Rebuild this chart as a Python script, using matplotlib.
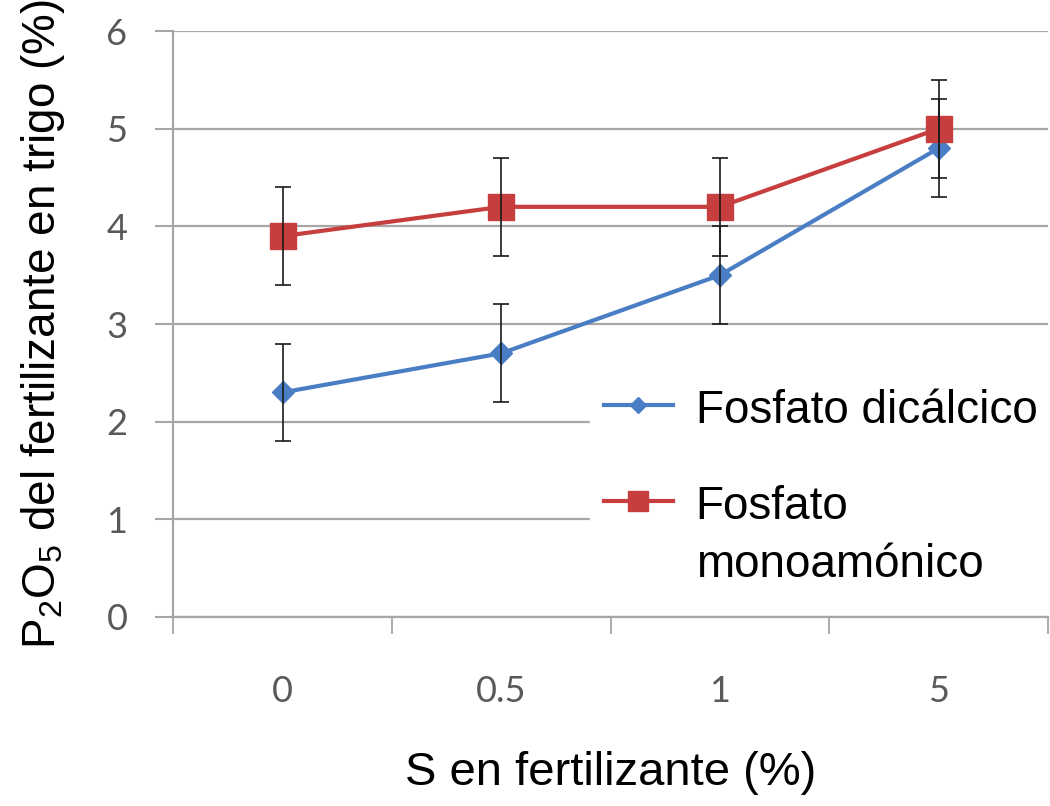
import numpy as np
import matplotlib
matplotlib.use('Agg')
import matplotlib.pyplot as plt

# S content in the fertilizer (categories) and P2O5 uptake in wheat
s_levels = ['0', '0.5', '1', '5']
dicalcico = [2.3, 2.7, 3.5, 4.8]
dicalcico_err = [0.5, 0.5, 0.5, 0.5]
monoamonico = [3.9, 4.2, 4.2, 5.0]
monoamonico_err = [0.5, 0.5, 0.5, 0.5]
series_names = ['Fosfato dicálcico', 'Fosfato\nmonoamónico']

plt.rcParams['font.family'] = ['Liberation Sans', 'DejaVu Sans']
plt.rcParams['mathtext.fontset'] = 'custom'
plt.rcParams['mathtext.rm'] = 'Liberation Sans'
plt.rcParams['mathtext.it'] = 'Liberation Sans:italic'

blue = '#4A7EC4'
red = '#C63E3E'
grid_col = '#A6A6A6'
tick_col = '#595959'

fig = plt.figure(figsize=(10.5, 8.06), dpi=100)
ax = fig.add_axes([0.165, 0.2345, 0.833, 0.727])

x = np.arange(len(s_levels))

ax.plot(x, dicalcico, color=blue, lw=3, marker='D', ms=11,
        label=series_names[0], zorder=3)
ax.plot(x, monoamonico, color=red, lw=3, marker='s', ms=19,
        label=series_names[1], zorder=3)
ax.errorbar(x, dicalcico, yerr=dicalcico_err, fmt='none', ecolor='#1a1a1a',
            elinewidth=1.2, capsize=6, capthick=1.2, zorder=4)
ax.errorbar(x, monoamonico, yerr=monoamonico_err, fmt='none', ecolor='#1a1a1a',
            elinewidth=1.2, capsize=6, capthick=1.2, zorder=4)

ax.set_xlim(-0.5, len(s_levels) - 0.5)
ax.set_ylim(0, 6)

# boundaries get the tick marks, category centres get the labels
ax.set_xticks(np.arange(-0.5, len(s_levels)), labels=[''] * (len(s_levels) + 1))
ax.set_xticks(x, labels=s_levels, minor=True)
ax.tick_params(axis='x', which='major', length=12, width=1.3, color=grid_col,
               direction='out')
ax.tick_params(axis='x', which='minor', length=0, pad=42, labelsize=26,
               labelcolor=tick_col)
ax.set_yticks(range(0, 7))
ax.tick_params(axis='y', length=13, width=1.5, color=grid_col, pad=20,
               labelsize=26, labelcolor=tick_col)
for lab in ax.get_xticklabels(minor=True) + ax.get_yticklabels():
    lab.set_family('Lato')

ax.yaxis.grid(True, color=grid_col, lw=1.6, zorder=0)
ax.set_axisbelow(True)
for side in ['top', 'right']:
    ax.spines[side].set_visible(False)
for side in ['left', 'bottom']:
    ax.spines[side].set_color(grid_col)
    ax.spines[side].set_linewidth(1.6)

ax.set_xlabel('S en fertilizante (%)', fontsize=34, labelpad=31)
ax.set_ylabel(r'P$_2$O$_5$ del fertilizante en trigo (%)', fontsize=33,
              labelpad=28)

leg = ax.legend(loc='upper left', bbox_to_anchor=(0.4766, 0.413), fontsize=33,
                frameon=True, framealpha=1, edgecolor='white', fancybox=False,
                handlelength=1.5, handletextpad=0.5, labelspacing=1.15,
                borderpad=0.3, borderaxespad=0, markerscale=0.75)
leg.set_zorder(2.5)
for txt in leg.get_texts():
    txt.set_linespacing(1.4)
# put each handle level with the first line of its label
for column in leg._legend_handle_box.get_children():
    for row in column.get_children():
        row.align = 'top'

fig.savefig('out.png', dpi=100)
